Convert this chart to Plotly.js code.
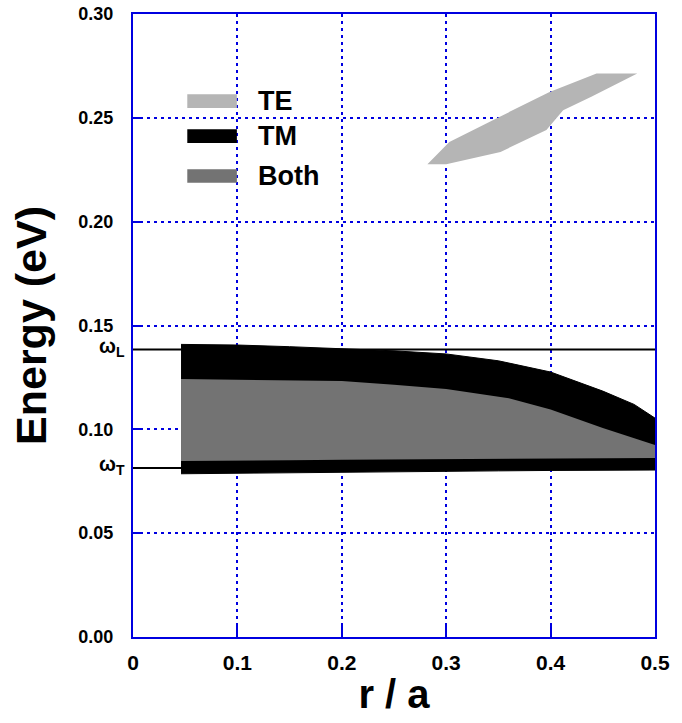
<!DOCTYPE html>
<html>
<head>
<meta charset="utf-8">
<script src="https://cdn.plot.ly/plotly-3.0.1.min.js"></script>
<style>html,body{margin:0;padding:0;background:#fff;}#chart{width:682px;height:723px;}</style>
</head>
<body>
<div id="chart"></div>
<script>
// TE band (light gray polygon)
const teX = [0.282, 0.303, 0.348, 0.399, 0.444, 0.483, 0.439, 0.412, 0.396, 0.352, 0.300, 0.282];
const teY = [0.2277, 0.2384, 0.2497, 0.2625, 0.2714, 0.2714, 0.2601, 0.2537, 0.2441, 0.2336, 0.2277, 0.2277];

// TM band (black): upper and lower edges
const tmX = [0.046, 0.10, 0.15, 0.20, 0.25, 0.30, 0.35, 0.40, 0.45, 0.48, 0.50];
const tmTop = [0.1409, 0.1406, 0.1398, 0.1388, 0.1378, 0.1363, 0.1330, 0.1276, 0.1184, 0.1120, 0.1054];
const tmBot = [0.0786, 0.0788, 0.0790, 0.0792, 0.0795, 0.0798, 0.0800, 0.0802, 0.0803, 0.0804, 0.0804];

// Both band (dark gray)
const bothX = [0.046, 0.10, 0.15, 0.20, 0.25, 0.30, 0.36, 0.40, 0.45, 0.50];
const bothTop = [0.1242, 0.1240, 0.1237, 0.1233, 0.1215, 0.1194, 0.1150, 0.1096, 0.1006, 0.0924];
const bothBot = [0.0847, 0.0849, 0.0851, 0.0853, 0.0855, 0.0857, 0.0859, 0.0860, 0.0861, 0.0862];

// Phonon frequencies
const omegaL = 0.1385;
const omegaT = 0.0814;
const omegaLabels = ["ω<sub>L</sub>", "ω<sub>T</sub>"];

const legendNames = ["TE", "TM", "Both"];
const legendColors = ["#b5b5b5", "#000000", "#737373"];

const yTicks = [0, 0.05, 0.10, 0.15, 0.20, 0.25, 0.30];
const xTicks = [0, 0.1, 0.2, 0.3, 0.4, 0.5];

const FONT = 'Liberation Sans, Arial, sans-serif';
const BLUE = '#0000e0';

function band(xs, top, bot) {
  return {
    x: xs.concat(xs.slice().reverse()),
    y: top.concat(bot.slice().reverse())
  };
}

const tm = band(tmX, tmTop, tmBot);
const both = band(bothX, bothTop, bothBot);

const traces = [
  {x: tm.x, y: tm.y, type: 'scatter', mode: 'lines', fill: 'toself',
   fillcolor: legendColors[1], line: {color: legendColors[1], width: 1}, name: legendNames[1], showlegend: false, hoverinfo: 'skip'},
  {x: both.x, y: both.y, type: 'scatter', mode: 'lines', fill: 'toself',
   fillcolor: legendColors[2], line: {color: legendColors[2], width: 0}, name: legendNames[2], showlegend: false, hoverinfo: 'skip'},
  {x: teX, y: teY, type: 'scatter', mode: 'lines', fill: 'toself',
   fillcolor: legendColors[0], line: {color: legendColors[0], width: 0}, name: legendNames[0], showlegend: false, hoverinfo: 'skip'},
  {x: [0, 0.5], y: [omegaL, omegaL], type: 'scatter', mode: 'lines',
   line: {color: '#000', width: 2}, showlegend: false, hoverinfo: 'skip'},
  {x: [0, 0.5], y: [omegaT, omegaT], type: 'scatter', mode: 'lines',
   line: {color: '#000', width: 2}, showlegend: false, hoverinfo: 'skip'}
];

const shapes = [];
const annotations = [];
// custom legend
const legY = [0.2580, 0.2412, 0.2220];
legendNames.forEach((n, i) => {
  shapes.push({type: 'rect', xref: 'x', yref: 'y',
    x0: 0.0520, x1: 0.0995, y0: legY[i] - 0.0033, y1: legY[i] + 0.0033,
    fillcolor: legendColors[i], line: {width: 0}, layer: 'above'});
  annotations.push({x: 0.1180, y: legY[i], xref: 'x', yref: 'y', text: '<b>' + n + '</b>',
    showarrow: false, xanchor: 'left', yanchor: 'middle',
    font: {family: FONT, size: 27, color: '#000'}});
});
// omega labels
[omegaL, omegaT].forEach((v, i) => {
  annotations.push({x: 0, xref: 'paper', y: v, yref: 'y', text: '<b>' + omegaLabels[i] + '</b>',
    showarrow: false, xanchor: 'right', yanchor: 'middle', xshift: -6, yshift: 2,
    font: {family: FONT, size: 20, color: '#000'}});
});

const layout = {
  width: 682, height: 723,
  margin: {l: 133, r: 27, t: 14, b: 86},
  paper_bgcolor: '#fff', plot_bgcolor: '#fff',
  showlegend: false,
  font: {family: FONT, color: '#000'},
  xaxis: {
    range: [0, 0.5], tickvals: xTicks, ticktext: xTicks.map(v => '<b>' + (v === 0 ? '0' : v.toFixed(1)) + '</b>'),
    showgrid: true, gridcolor: BLUE, griddash: '3px,4px', gridwidth: 2,
    showline: true, linecolor: BLUE, linewidth: 2, mirror: true,
    ticks: 'inside', ticklen: 14, tickcolor: BLUE, tickwidth: 2,
    tickfont: {family: FONT, size: 21, color: '#000'}, ticklabelstandoff: 6,
    zeroline: false,
    title: {text: '<b>r / a</b>', font: {family: FONT, size: 40, color: '#000'}, standoff: 7}
  },
  yaxis: {
    range: [0, 0.3], tickvals: yTicks, ticktext: yTicks.map(v => '<b>' + v.toFixed(2) + '</b>'),
    showgrid: true, gridcolor: BLUE, griddash: '3px,4px', gridwidth: 2,
    showline: true, linecolor: BLUE, linewidth: 2, mirror: true,
    ticks: 'inside', ticklen: 7, tickcolor: BLUE, tickwidth: 2,
    tickfont: {family: FONT, size: 18, color: '#000'}, ticklabelstandoff: 14,
    zeroline: false,
    title: {text: '<b>Energy (eV)</b>', font: {family: FONT, size: 43, color: '#000'}, standoff: 18}
  },
  shapes: shapes,
  annotations: annotations
};

Plotly.newPlot('chart', traces, layout, {displayModeBar: false, staticPlot: true});
</script>
</body>
</html>
